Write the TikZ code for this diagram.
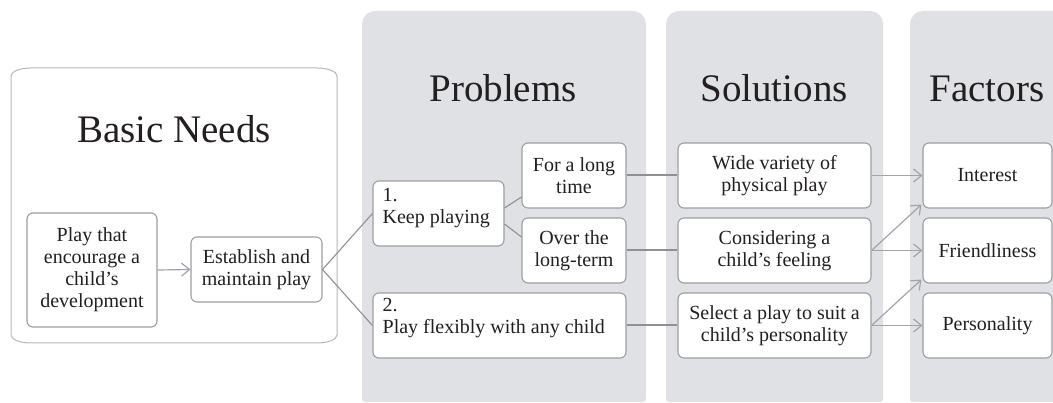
\documentclass[tikz,border=0pt]{standalone}
\usepackage{fontspec}
\setmainfont{Liberation Serif}
\usetikzlibrary{arrows.meta,calc}
\definecolor{panelgrey}{HTML}{DFE1E5}
\definecolor{boxline}{HTML}{9C9EA2}
\definecolor{outerline}{HTML}{B4B6BA}
\definecolor{linkgrey}{HTML}{8E9094}
\definecolor{arrowgrey}{HTML}{A2A4A8}
\definecolor{ink}{HTML}{231F20}
\begin{document}
\begin{tikzpicture}[x=1pt,y=-1pt,
  every node/.style={text=ink,inner sep=0pt},
  bx/.style={draw=boxline,line width=1.1pt,fill=white,rounded corners=6pt,
    align=center,font=\fontsize{20}{22}\selectfont},
  heading/.style={anchor=base,font=\fontsize{39}{40}\selectfont},
  numtext/.style={anchor=north west,align=left,font=\fontsize{20}{21.5}\selectfont},
  thin link/.style={draw=linkgrey,line width=1.1pt},
  thick link/.style={draw=linkgrey,line width=2pt},
  arrow link/.style={draw=arrowgrey,line width=1.2pt,
    -{Straight Barb[length=8pt,width=13pt,line width=1.2pt]}}]
\useasboundingbox (0,0) rectangle (1053,403);
\clip (0,0) rectangle (1053,403);

% column panels: large top radius, small bottom radius
\fill[panelgrey,rounded corners=13pt] (362,200) |- (646,11) -- (646,200)
  [rounded corners=3pt] |- (362,402) -- cycle;
\fill[panelgrey,rounded corners=13pt] (666,200) |- (883,11) -- (883,200)
  [rounded corners=3pt] |- (666,402) -- cycle;
\fill[panelgrey,rounded corners=13pt] (910,200) |- (1080,11) -- (1080,200)
  [rounded corners=3pt] |- (910,402) -- cycle;

% outer frame for the basic needs (flattened corners; y axis points down)
\draw[outerline,line width=1pt,fill=white]
  (31,68) -- (317,68)
  arc[start angle=-90,end angle=0,x radius=20,y radius=8] -- (337,335)
  arc[start angle=0,end angle=90,x radius=20,y radius=8] -- (31,343)
  arc[start angle=90,end angle=180,x radius=20,y radius=8] -- (11,76)
  arc[start angle=180,end angle=270,x radius=20,y radius=8] -- cycle;

% headings
\node[heading] (hneeds) at (174,143) {Basic Needs};
\node[heading] (hprob) at (503,102) {Problems};
\node[heading] (hsol) at (774,102) {Solutions};
\node[heading] (hfac) at (987,102) {Factors};

% basic needs boxes
\node[bx,minimum width=130pt,minimum height=114pt] (play) at (92,270)
  {Play that\\encourage a\\child’s\\development};
\node[bx,minimum width=131pt,minimum height=65pt] (est) at (256.5,269.5)
  {Establish and\\maintain play};

% problem boxes
\node[bx,minimum width=131pt,minimum height=65pt] (kp) at (438.5,213.5) {};
\node[numtext] (kptext) at ($(kp.north west)+(10,8)$) {1.\\Keep playing};
\node[bx,minimum width=104pt,minimum height=65pt] (flt) at (574,175.5)
  {For a long\\time};
\node[bx,minimum width=104pt,minimum height=65pt] (olt) at (574,250.5)
  {Over the\\long-term};
\node[bx,minimum width=253pt,minimum height=65pt] (pf) at (499.5,325.5) {};
\node[numtext] (pftext) at ($(pf.north west)+(10,6)$) {2.\\Play flexibly with any child};

% solution boxes
\node[bx,minimum width=193pt,minimum height=65pt] (wide) at (774.5,175.5)
  {Wide variety of\\physical play};
\node[bx,minimum width=193pt,minimum height=65pt] (cons) at (774.5,250.5)
  {Considering a\\child’s feeling};
\node[bx,minimum width=193pt,minimum height=65pt] (sel) at (774.5,325.5)
  {Select a play to suit a\\child’s personality};

% factor boxes
\node[bx,minimum width=129pt,minimum height=65pt] (intr) at (987.5,175.5) {Interest};
\node[bx,minimum width=129pt,minimum height=65pt] (frnd) at (987.5,250.5) {Friendliness};
\node[bx,minimum width=129pt,minimum height=65pt] (pers) at (987.5,325.5) {Personality};

% connectors
\draw[arrow link] (play.east) -- (est.west);
\draw[thin link] (est.east) -- (kp.west);
\draw[thin link] (est.east) -- (pf.west);
\draw[thin link] ($(kp.east)+(0,-5.5)$) -- ($(flt.west)+(0,21.5)$);
\draw[thin link] ($(kp.east)+(0,10.5)$) -- ($(olt.west)+(0,-13.5)$);
\draw[thick link] (flt.east) -- (wide.west);
\draw[thick link] (olt.east) -- (cons.west);
\draw[thick link] (pf.east) -- (sel.west);
\draw[arrow link] (wide.east) -- (intr.west);
\draw[arrow link] (cons.east) -- ($(intr.south west)+(-1,-4)$);
\draw[arrow link] (cons.east) -- (frnd.west);
\draw[arrow link] (sel.east) -- ($(frnd.south west)+(-1,-4)$);
\draw[arrow link] (sel.east) -- (pers.west);
\end{tikzpicture}
\end{document}
